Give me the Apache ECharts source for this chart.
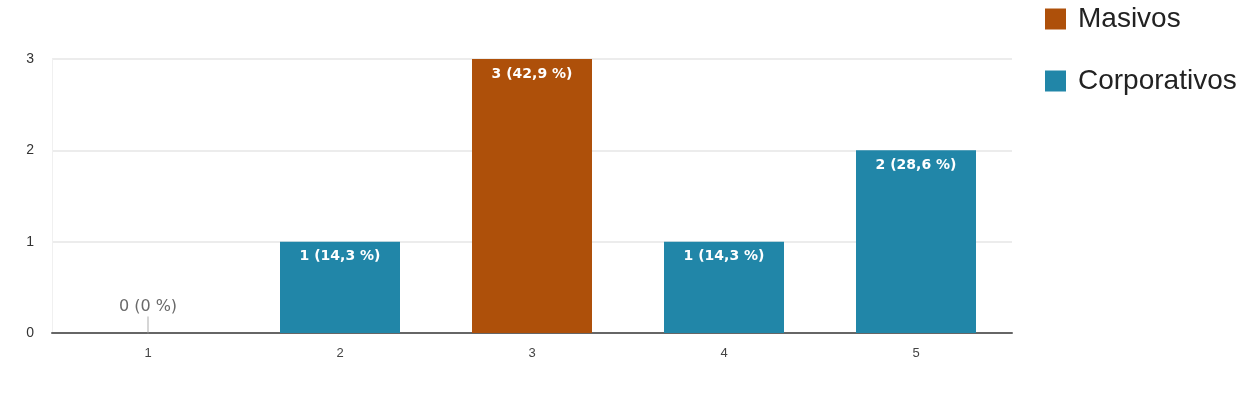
<!DOCTYPE html>
<html>
<head>
<meta charset="utf-8">
<script src="https://cdn.jsdelivr.net/npm/echarts@6/dist/echarts.min.js"></script>
<style>html,body{margin:0;padding:0;background:#fff}#c{width:1254px;height:395px}</style>
</head>
<body>
<div id="c"></div>
<script>
const categories = ['1', '2', '3', '4', '5'];
const masivos = [null, null, 3, null, null];
const corporativos = [0, 1, null, 1, 2];
const percents = ['0 %', '14,3 %', '42,9 %', '14,3 %', '28,6 %'];
const yTicks = [0, 1, 2, 3];

const chart = echarts.init(document.getElementById('c'));
function lbl(p) { return p.value + ' (' + percents[p.dataIndex] + ')'; }
const barLabel = { show: true, position: 'insideTop', distance: 8, color: '#fff', fontWeight: 'bold', fontSize: 14, fontFamily: 'DejaVu Sans', formatter: lbl };
chart.setOption({
  animation: false,
  grid: { left: 52, right: 242, top: 59, bottom: 62 },
  legend: {
    orient: 'vertical', left: 1045, top: 5, padding: 0, itemWidth: 21, itemHeight: 21, itemGap: 34, icon: 'rect',
    textStyle: { fontSize: 28, color: '#222', fontFamily: 'Liberation Sans, Arial', lineHeight: 21, padding: [0, 0, 0, 7] },
    data: ['Masivos', 'Corporativos']
  },
  xAxis: {
    type: 'category', data: categories,
    axisLine: { lineStyle: { color: '#666', width: 2 } },
    axisTick: { show: false },
    axisLabel: { color: '#444', fontSize: 13, margin: 14, fontFamily: 'Liberation Sans, Arial' }
  },
  yAxis: {
    type: 'value', min: 0, max: yTicks[yTicks.length - 1], interval: 1,
    axisLabel: { color: '#333', fontSize: 14, margin: 18, fontFamily: 'Liberation Sans, Arial' },
    splitLine: { lineStyle: { color: '#ececec', width: 2 } },
    axisLine: { show: true, lineStyle: { color: '#f0f0f0' } }
  },
  series: [
    {
      name: 'Masivos', type: 'bar', data: masivos, barWidth: 120, barGap: '-100%',
      itemStyle: { color: '#ae500a' },
      label: barLabel
    },
    {
      name: 'Corporativos', type: 'bar',
      data: corporativos.map(v => v === 0 ? { value: v, label: { show: false } } : v),
      barWidth: 120,
      itemStyle: { color: '#2186a8' },
      label: barLabel
    },
    {
      name: 'zero', type: 'scatter', data: corporativos.map(v => v === 0 ? 0 : null),
      symbol: 'rect', symbolSize: [1, 17], symbolOffset: [0, -8], silent: true,
      itemStyle: { color: '#999' },
      label: { show: true, position: 'top', distance: 2, color: '#444', fontSize: 16, fontFamily: 'DejaVu Sans', formatter: lbl }
    }
  ]
});
</script>
</body>
</html>
